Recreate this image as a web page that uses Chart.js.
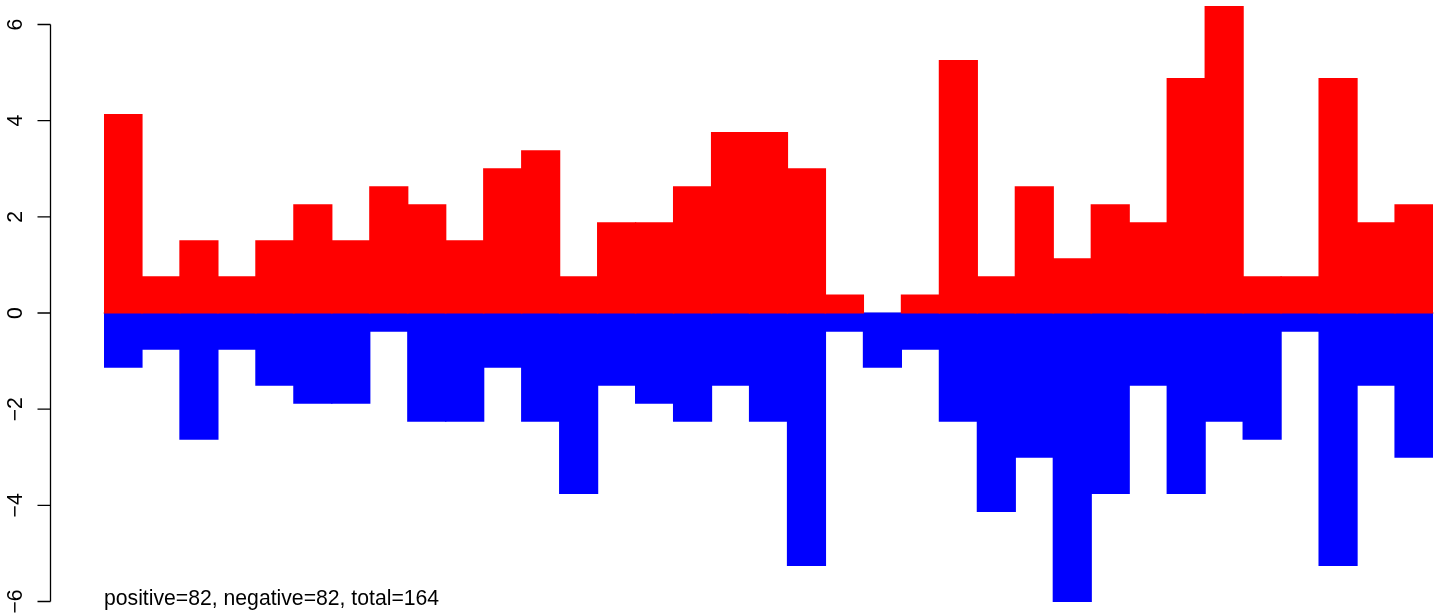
<!DOCTYPE html>
<html>
<head>
<meta charset="utf-8">
<script src="https://cdn.jsdelivr.net/npm/chart.js@4"></script>
<style>
  html, body { margin: 0; padding: 0; background: #fff; }
  #wrap { width: 1444px; height: 614px; }
</style>
</head>
<body>
<div id="wrap"><canvas id="barChart" width="1444" height="614"></canvas></div>
<script>
// bin index along the x axis
const categories = Array.from({ length: 35 }, (_, i) => String(i + 1));

// heights (steps of 0.375)
const positiveValues = [4.125, 0.75, 1.5, 0.75, 1.5, 2.25, 1.5, 2.625, 2.25, 1.5,
    3.0, 3.375, 0.75, 1.875, 1.875, 2.625, 3.75, 3.75, 3.0, 0.375,
    0, 0.375, 5.25, 0.75, 2.625, 1.125, 2.25, 1.875, 4.875, 6.375,
    0.75, 0.75, 4.875, 1.875, 2.25];

const negativeValues = [-1.125, -0.75, -2.625, -0.75, -1.5, -1.875, -1.875, -0.375, -2.25, -2.25,
    -1.125, -2.25, -3.75, -1.5, -1.875, -2.25, -1.5, -2.25, -5.25, -0.375,
    -1.125, -0.75, -2.25, -4.125, -3.0, -6.0, -3.75, -1.5, -3.75, -2.25,
    -2.625, -0.375, -5.25, -1.5, -3.0];

const yTicks = [-6, -4, -2, 0, 2, 4, 6];
const caption = 'positive=82, negative=82, total=164';

const FONT = '21.2px "Liberation Sans", Arial, Helvetica, sans-serif';

// grow bars a little so neighbours meet without seams, but leave empty bins empty
const inflate = ctx => (ctx.raw === 0 ? 0 : 0.6);

// R-style left axis, zero line and caption
const rAxisPlugin = {
    id: 'rAxis',
    beforeDatasetsDraw(chart) {
        const ctx = chart.ctx;
        const y0 = chart.scales.y.getPixelForValue(0);
        ctx.save();
        ctx.strokeStyle = '#bebebe';
        ctx.lineWidth = 1;
        ctx.beginPath();
        ctx.moveTo(chart.chartArea.left - 1, y0);
        ctx.lineTo(chart.chartArea.right + 1, y0);
        ctx.stroke();
        ctx.restore();
    },
    afterDraw(chart) {
        const ctx = chart.ctx;
        const y = chart.scales.y;
        const axisX = 50.5;
        const top = y.getPixelForValue(yTicks[yTicks.length - 1]);
        const bottom = y.getPixelForValue(yTicks[0]);

        ctx.save();
        ctx.strokeStyle = '#000';
        ctx.lineWidth = 1.3;
        ctx.beginPath();
        ctx.moveTo(axisX, top);
        ctx.lineTo(axisX, bottom);
        yTicks.forEach(v => {
            const py = y.getPixelForValue(v);
            ctx.moveTo(axisX, py);
            ctx.lineTo(axisX - 13, py);
        });
        ctx.stroke();

        ctx.fillStyle = '#000';
        ctx.font = FONT;
        ctx.textAlign = 'center';
        ctx.textBaseline = 'alphabetic';
        yTicks.forEach(v => {
            const py = y.getPixelForValue(v);
            ctx.save();
            ctx.translate(22, py);
            ctx.rotate(-Math.PI / 2);
            ctx.fillText(String(v).replace('-', '\u2212'), 0, 0);
            ctx.restore();
        });

        ctx.textAlign = 'left';
        ctx.fillText(caption, chart.chartArea.left, 605);
        ctx.restore();
    }
};

const chart = new Chart(document.getElementById('barChart').getContext('2d'), {
    type: 'bar',
    data: {
        labels: categories,
        datasets: [
            {
                label: 'positive',
                data: positiveValues,
                backgroundColor: '#ff0000',
                borderWidth: 0,
                inflateAmount: inflate,
                barPercentage: 1,
                categoryPercentage: 1
            },
            {
                label: 'negative',
                data: negativeValues,
                backgroundColor: '#0000ff',
                borderWidth: 0,
                inflateAmount: inflate,
                barPercentage: 1,
                categoryPercentage: 1
            }
        ]
    },
    options: {
        responsive: false,
        animation: false,
        layout: { padding: { left: 104, right: 11, top: 0, bottom: 0 } },
        plugins: {
            legend: { display: false },
            tooltip: { enabled: false }
        },
        scales: {
            x: { display: false, stacked: true },
            y: { display: false, stacked: true, min: -6.26, max: 6.51 }
        }
    },
    plugins: [rAxisPlugin]
});
</script>
</body>
</html>
